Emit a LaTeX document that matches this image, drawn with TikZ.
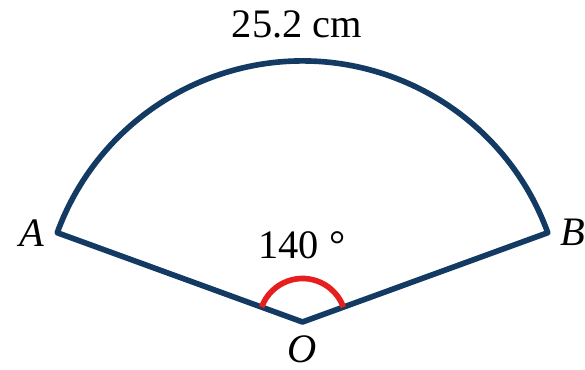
\documentclass[tikz,border=0pt]{standalone}
\usepackage{fontspec}
\setmainfont{Liberation Serif}
\usetikzlibrary{positioning,calc}
\definecolor{sectorblue}{RGB}{18,58,98}
\definecolor{anglered}{RGB}{230,30,30}

\begin{document}
\begin{tikzpicture}[thick,
	edge/.style={draw=sectorblue, line width=3.2pt, line join=round},
	anglemark/.style={draw=anglered, line width=3.2pt},
	lab/.style={font=\fontsize{23}{27}\selectfont, inner sep=0pt}]

	\useasboundingbox (0,0) rectangle (11.7,7.4);

	% Points
	\coordinate (O) at (6.05,0.96);
	\coordinate (A) at ($(O)+(160:5.22)$);
	\coordinate (B) at ($(O)+(20:5.22)$);

	% Sector
	\draw[edge] (A) -- (O) -- (B) arc[start angle=20, end angle=160, radius=5.22] -- cycle;
	\draw[anglemark] ($(O)+(20:0.87)$) arc[start angle=20, end angle=160, radius=0.87];

	% Labels
	\node[lab] (arclen) at (5.94,6.92) {25.2 cm};
	\node[lab] (angle) at (6.04,2.5) {140 °};
	\node[lab, left=0.25cm of A] (labA) {\itshape A};
	\node[lab, right=0.25cm of B] (labB) {\itshape B};
	\node[lab, below=0.27cm of O] (labO) {\itshape O};
\end{tikzpicture}
\end{document}
